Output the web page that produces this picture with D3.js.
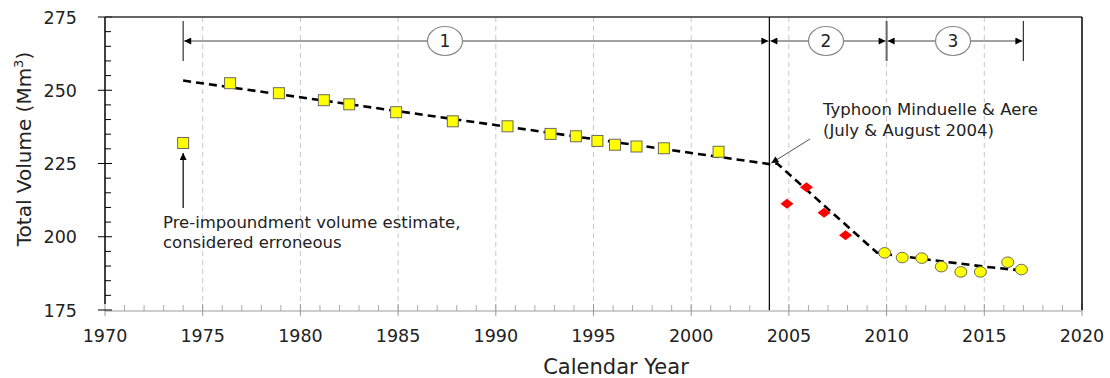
<!DOCTYPE html>
<html>
<head>
<meta charset="utf-8">
<script src="https://cdn.jsdelivr.net/npm/d3@7"></script>
<style>
  body { margin: 0; background: #fff; }
  svg { font-family: "DejaVu Sans", sans-serif; }
</style>
</head>
<body>
<div id="place"></div>
<script>
// donnees
const preYear = [1974.0];
const preVolume = [232.0];

const survey1Years = [1976.4, 1978.9, 1981.2, 1982.5, 1984.9, 1987.8, 1990.6, 1992.8, 1994.1, 1995.2, 1996.1, 1997.2, 1998.6, 2001.4];
const survey1Volume = [252.4, 249.0, 246.6, 245.2, 242.5, 239.4, 237.7, 235.1, 234.3, 232.7, 231.4, 230.8, 230.2, 229.0];

const survey2Years = [2004.9, 2005.9, 2006.8, 2007.9];
const survey2Volume = [211.3, 216.9, 208.2, 200.5];

const survey3Years = [2009.9, 2010.8, 2011.8, 2012.8, 2013.8, 2014.8, 2016.2, 2016.9];
const survey3Volume = [194.5, 192.9, 192.7, 189.8, 188.0, 188.0, 191.3, 188.8];

const trendYears = [1974.0, 2004.0, 2004.4, 2009.5, 2010.0, 2012.0, 2015.0, 2017.0];
const trendVolume = [253.3, 224.8, 225.0, 194.6, 194.0, 192.3, 189.8, 188.4];

const xTicks = [1970, 1975, 1980, 1985, 1990, 1995, 2000, 2005, 2010, 2015, 2020];
const yTicks = [175, 200, 225, 250, 275];

const periods = [
  { label: "1", from: 1974, to: 2004, mid: 1987.4 },
  { label: "2", from: 2004, to: 2010, mid: 2006.9 },
  { label: "3", from: 2010, to: 2017, mid: 2013.4 }
];

const W = 1110, H = 378;
const margin = { top: 17, right: 28, bottom: 68, left: 105 };
const width = W - margin.left - margin.right;
const height = H - margin.top - margin.bottom;

let svg = d3.select("#place").append("svg")
    .attr("width", W)
    .attr("height", H);

let defs = svg.append("defs");
defs.append("marker")
    .attr("id", "tri")
    .attr("viewBox", "0 0 10 10")
    .attr("refX", 10).attr("refY", 5)
    .attr("markerWidth", 9).attr("markerHeight", 7)
    .attr("markerUnits", "userSpaceOnUse")
    .attr("orient", "auto-start-reverse")
    .append("path")
    .attr("d", "M0,0 L10,5 L0,10 Z")
    .attr("fill", "#000");

let g = svg.append("g")
    .attr("transform", "translate(" + margin.left + "," + margin.top + ")");

const x = d3.scaleLinear().domain([1970, 2020]).range([0, width]);
const y = d3.scaleLinear().domain([175, 275]).range([height, 0]);

// grille verticale pointillee
g.selectAll(".grid")
    .data(xTicks.slice(1, -1))
    .join("line")
    .attr("x1", d => x(d)).attr("x2", d => x(d))
    .attr("y1", 0).attr("y2", height)
    .attr("stroke", "#c8c8c8")
    .attr("stroke-width", 1)
    .attr("stroke-dasharray", "5,4");

// axe x : petites graduations chaque annee
let xMinor = d3.range(1971, 2020).filter(d => d % 5 !== 0);
g.append("line")
    .attr("x1", 0).attr("x2", width)
    .attr("y1", height + 1).attr("y2", height + 1)
    .attr("stroke", "#bdbdbd").attr("stroke-width", 1.5);
g.selectAll(".xminor")
    .data(xMinor)
    .join("line")
    .attr("x1", d => x(d)).attr("x2", d => x(d))
    .attr("y1", height - 5).attr("y2", height + 1)
    .attr("stroke", "#aaa");
g.selectAll(".xmajor")
    .data(xTicks)
    .join("line")
    .attr("x1", d => x(d)).attr("x2", d => x(d))
    .attr("y1", height - 6).attr("y2", height + 6)
    .attr("stroke", "#999");
g.selectAll(".xlab")
    .data(xTicks)
    .join("text")
    .attr("x", d => x(d))
    .attr("y", height + 32)
    .attr("text-anchor", "middle")
    .attr("font-size", "17.5px")
    .attr("fill", "#222")
    .text(d => d);

// axe y
let yMinor = d3.range(180, 275, 5).filter(d => d % 25 !== 0);
g.append("line")
    .attr("x1", 0).attr("x2", 0)
    .attr("y1", 0).attr("y2", height - 6)
    .attr("stroke", "#000").attr("stroke-width", 1.5);
g.selectAll(".yminor")
    .data(yMinor)
    .join("line")
    .attr("x1", 0).attr("x2", 6)
    .attr("y1", d => y(d)).attr("y2", d => y(d))
    .attr("stroke", "#000");
g.selectAll(".ymajor")
    .data(yTicks)
    .join("line")
    .attr("x1", -7).attr("x2", 7)
    .attr("y1", d => y(d)).attr("y2", d => y(d))
    .attr("stroke", "#000");
g.selectAll(".ylab")
    .data(yTicks)
    .join("text")
    .attr("x", -28)
    .attr("y", d => y(d) + 6.5)
    .attr("text-anchor", "end")
    .attr("font-size", "17.5px")
    .attr("fill", "#222")
    .text(d => d);

// cadre haut et droite
g.append("line")
    .attr("x1", 0).attr("x2", width)
    .attr("y1", 0).attr("y2", 0)
    .attr("stroke", "#333").attr("stroke-width", 1.5);
g.append("line")
    .attr("x1", width).attr("x2", width)
    .attr("y1", 0).attr("y2", height)
    .attr("stroke", "#000").attr("stroke-width", 1.5);

// ligne verticale 2004
g.append("line")
    .attr("x1", x(2004)).attr("x2", x(2004))
    .attr("y1", 0).attr("y2", height)
    .attr("stroke", "#000").attr("stroke-width", 1.2);

// barres verticales des periodes
g.selectAll(".pbar")
    .data([1974, 2010, 2017])
    .join("line")
    .attr("x1", d => x(d)).attr("x2", d => x(d))
    .attr("y1", 4).attr("y2", 44)
    .attr("stroke", d => d === 2010 ? "#666" : "#333")
    .attr("stroke-width", d => d === 2010 ? 2 : 1.2);

// fleches des periodes
const arrowY = 24;
periods.forEach(function (p) {
    g.append("line")
        .attr("x1", x(p.from) + 1).attr("x2", x(p.to) - 1)
        .attr("y1", arrowY).attr("y2", arrowY)
        .attr("stroke", "#444").attr("stroke-width", 1.2)
        .attr("marker-start", "url(#tri)")
        .attr("marker-end", "url(#tri)");
    g.append("ellipse")
        .attr("cx", x(p.mid)).attr("cy", arrowY)
        .attr("rx", 17.5).attr("ry", 14.5)
        .attr("fill", "#fff")
        .attr("stroke", "#888").attr("stroke-width", 1.2);
    g.append("text")
        .attr("x", x(p.mid)).attr("y", arrowY + 6)
        .attr("text-anchor", "middle")
        .attr("font-size", "17px")
        .attr("fill", "#222")
        .text(p.label);
});

// ligne de tendance
let trend = trendYears.map((d, i) => [d, trendVolume[i]]);
g.append("path")
    .datum(trend)
    .attr("d", d3.line().x(d => x(d[0])).y(d => y(d[1])))
    .attr("fill", "none")
    .attr("stroke", "#000")
    .attr("stroke-width", 2.6)
    .attr("stroke-dasharray", "8,5");

// carres jaunes
let squares = preYear.concat(survey1Years).map(function (d, i) {
    return [d, preVolume.concat(survey1Volume)[i]];
});
g.selectAll(".sq")
    .data(squares)
    .join("rect")
    .attr("x", d => x(d[0]) - 5.5)
    .attr("y", d => y(d[1]) - 5.5)
    .attr("width", 11).attr("height", 11)
    .attr("fill", "#ffff00")
    .attr("stroke", "#6b6b5a").attr("stroke-width", 1);

// losanges rouges (un peu aplatis)
g.selectAll(".dia")
    .data(survey2Years.map((d, i) => [d, survey2Volume[i]]))
    .join("path")
    .attr("d", "M-6.5,0 L0,-5 L6.5,0 L0,5 Z")
    .attr("transform", d => "translate(" + x(d[0]) + "," + y(d[1]) + ")")
    .attr("fill", "#ff0000");

// cercles jaunes
g.selectAll(".circ")
    .data(survey3Years.map((d, i) => [d, survey3Volume[i]]))
    .join("ellipse")
    .attr("cx", d => x(d[0]))
    .attr("cy", d => y(d[1]))
    .attr("rx", 6).attr("ry", 5.3)
    .attr("fill", "#ffff00")
    .attr("stroke", "#6b6b5a").attr("stroke-width", 1);

// annotation typhon
g.append("line")
    .attr("x1", 705).attr("x2", x(2004) + 2)
    .attr("y1", 122).attr("y2", y(224.8) - 1)
    .attr("stroke", "#555").attr("stroke-width", 1)
    .attr("marker-end", "url(#tri)");
g.append("text")
    .attr("x", 718).attr("y", 98)
    .attr("font-size", "16.5px")
    .attr("fill", "#222")
    .text("Typhoon Minduelle & Aere");
g.append("text")
    .attr("x", 718).attr("y", 119)
    .attr("font-size", "16.5px")
    .attr("fill", "#222")
    .text("(July & August 2004)");

// annotation pre-impoundment
g.append("line")
    .attr("x1", x(1974)).attr("x2", x(1974))
    .attr("y1", 191).attr("y2", y(232) + 10)
    .attr("stroke", "#000").attr("stroke-width", 1.2)
    .attr("marker-end", "url(#tri)");
g.append("text")
    .attr("x", 58).attr("y", 211)
    .attr("font-size", "16.5px")
    .attr("fill", "#222")
    .text("Pre-impoundment volume estimate,");
g.append("text")
    .attr("x", 58).attr("y", 231)
    .attr("font-size", "16.5px")
    .attr("fill", "#222")
    .text("considered erroneous");

// titres des axes
svg.append("text")
    .attr("x", 616)
    .attr("y", 374)
    .attr("text-anchor", "middle")
    .attr("font-size", "21px")
    .attr("fill", "#222")
    .text("Calendar Year");

let yt = svg.append("text")
    .attr("transform", "translate(31,149) rotate(-90)")
    .attr("text-anchor", "middle")
    .attr("font-size", "20px")
    .attr("fill", "#222");
yt.append("tspan").text("Total Volume (Mm");
yt.append("tspan").attr("font-size", "13px").attr("dy", -8).text("3");
yt.append("tspan").attr("dy", 8).text(")");
</script>
</body>
</html>
